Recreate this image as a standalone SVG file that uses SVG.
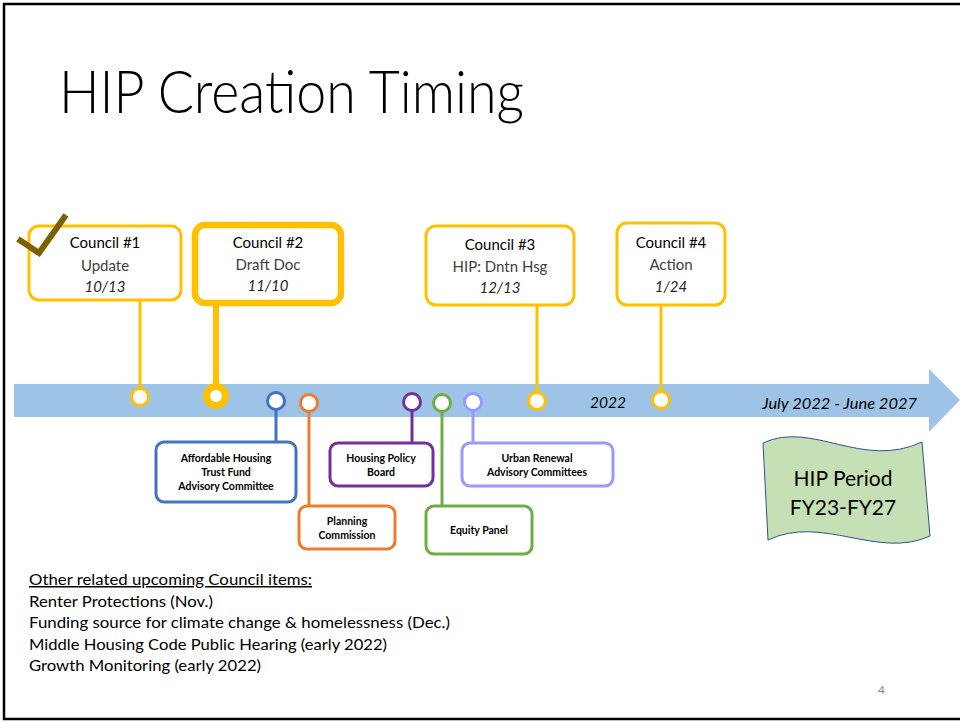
<svg xmlns="http://www.w3.org/2000/svg" width="960" height="721" viewBox="0 0 960 721">
  <style>
    text { font-family: Lato, "Open Sans", "Liberation Sans", sans-serif; }
    .title { font-size: 60px; font-weight: 300; fill: #000; }
    .ch { font-size: 15px; fill: #000; text-anchor: middle; }
    .cs { font-size: 15px; fill: #404040; text-anchor: middle; }
    .cd { font-size: 15px; fill: #262626; font-style: italic; text-anchor: middle; }
    .sm { font-size: 10.5px; font-weight: 700; fill: #000; text-anchor: middle; }
    .axis { font-size: 15.5px; font-style: italic; fill: #000; }
    .body { font-size: 15px; fill: #000; }
    .box { fill: #fff; stroke-width: 3; }
    .y { stroke: #FFC000; }
    .dot { fill: #fff; stroke-width: 3; }
    .line { fill: none; stroke-width: 3; }
  </style>

  <!-- slide frame -->
  <rect x="4" y="4" width="980" height="715" fill="#fff" stroke="#000" stroke-width="2.5"/>

  <text class="title" x="59" y="113" textLength="465" lengthAdjust="spacingAndGlyphs">HIP Creation Timing</text>

  <!-- timeline arrow -->
  <path d="M14,384 L929,384 L929,369 L960,400 L929,432 L929,417 L14,417 Z" fill="#9DC3E6"/>
  <text class="axis" x="590" y="408">2022</text>
  <text class="axis" x="762" y="409" textLength="155" lengthAdjust="spacingAndGlyphs">July 2022 - June 2027</text>

  <!-- connectors -->
  <g id="connectors">
    <line class="line y" x1="140" y1="300" x2="140" y2="390"/>
    <line x1="216" y1="306" x2="216" y2="390" stroke="#FFC000" stroke-width="6"/>
    <line class="line y" x1="537" y1="305" x2="537" y2="393"/>
    <line class="line y" x1="661" y1="305" x2="661" y2="393"/>
    <line class="line" stroke="#4472C4" x1="276" y1="409" x2="276" y2="442"/>
    <line class="line" stroke="#ED7D31" x1="309" y1="411" x2="309" y2="506"/>
    <line class="line" stroke="#7030A0" x1="412" y1="410" x2="412" y2="443"/>
    <line class="line" stroke="#70AD47" x1="442" y1="411" x2="442" y2="506"/>
    <line class="line" stroke="#9999FF" x1="473" y1="410" x2="473" y2="443"/>

    <circle class="dot y" cx="140" cy="397" r="8.5"/>
    <circle cx="216" cy="396" r="9.5" fill="#fff" stroke="#FFC000" stroke-width="7"/>
    <circle class="dot y" cx="537" cy="401" r="8.5"/>
    <circle class="dot y" cx="661" cy="400" r="8.5"/>
    <circle class="dot" stroke="#4472C4" cx="276" cy="401" r="8.5"/>
    <circle class="dot" stroke="#ED7D31" cx="309" cy="403" r="8.5"/>
    <circle class="dot" stroke="#7030A0" cx="412" cy="402" r="8.5"/>
    <circle class="dot" stroke="#70AD47" cx="442" cy="403" r="8.5"/>
    <circle class="dot" stroke="#9999FF" cx="473" cy="402" r="8.5"/>
  </g>

  <!-- council meetings -->
  <g id="council1">
    <rect class="box y" x="29" y="226" width="152" height="74" rx="10"/>
    <text class="ch" x="105" y="248">Council #1</text>
    <text class="cs" x="105" y="271">Update</text>
    <text class="cd" x="105" y="292">10/13</text>
    <path d="M18,239 L39,253 L66,215" fill="none" stroke="#7F6000" stroke-width="6"/>
  </g>

  <g id="council2">
    <rect x="195" y="225" width="146" height="78" rx="10" fill="#fff" stroke="#FFC000" stroke-width="6.5"/>
    <text class="ch" x="268" y="248">Council #2</text>
    <text class="cs" x="268" y="270">Draft Doc</text>
    <text class="cd" x="268" y="291">11/10</text>
  </g>

  <g id="council3">
    <rect class="box y" x="426" y="226" width="148" height="79" rx="10"/>
    <text class="ch" x="500" y="250">Council #3</text>
    <text class="cs" x="500" y="272">HIP: Dntn Hsg</text>
    <text class="cd" x="500" y="293">12/13</text>
  </g>

  <g id="council4">
    <rect class="box y" x="617" y="223" width="108" height="82" rx="10"/>
    <text class="ch" x="671" y="248">Council #4</text>
    <text class="cs" x="671" y="270">Action</text>
    <text class="cd" x="671" y="292">1/24</text>
  </g>

  <!-- advisory bodies -->
  <g id="ahtf">
    <rect class="box" stroke="#4472C4" x="156" y="442" width="140" height="60" rx="8"/>
    <text class="sm" x="226" y="462">Affordable Housing</text>
    <text class="sm" x="226" y="476">Trust Fund</text>
    <text class="sm" x="226" y="490">Advisory Committee</text>
  </g>

  <g id="planning">
    <rect class="box" stroke="#ED7D31" x="299" y="506" width="96" height="43" rx="8"/>
    <text class="sm" x="347" y="525">Planning</text>
    <text class="sm" x="347" y="539">Commission</text>
  </g>

  <g id="hpb">
    <rect class="box" stroke="#7030A0" x="330" y="443" width="103" height="43" rx="8"/>
    <text class="sm" x="381" y="462">Housing Policy</text>
    <text class="sm" x="381" y="476">Board</text>
  </g>

  <g id="equity">
    <rect class="box" stroke="#70AD47" x="426" y="506" width="106" height="48" rx="8"/>
    <text class="sm" x="479" y="534">Equity Panel</text>
  </g>

  <g id="urban">
    <rect class="box" stroke="#9999FF" x="462" y="443" width="151" height="43" rx="8"/>
    <text class="sm" x="537" y="462">Urban Renewal</text>
    <text class="sm" x="537" y="476">Advisory Committees</text>
  </g>

  <!-- plan period banner -->
  <g id="hip-period">
    <path d="M763,443 C812,420 862,470 922,442 L930,536 C878,560 822,514 768,540 Z" fill="#C5E0B4" stroke="#2F528F" stroke-width="1"/>
    <text x="843" y="486" font-size="21" text-anchor="middle" fill="#000">HIP Period</text>
    <text x="843" y="515" font-size="21" text-anchor="middle" fill="#000">FY23-FY27</text>
  </g>

  <!-- related items -->
  <g id="related">
    <text class="body" x="29" y="585" text-decoration="underline" textLength="283" lengthAdjust="spacingAndGlyphs">Other related upcoming Council items:</text>
    <text class="body" x="29" y="607" textLength="184" lengthAdjust="spacingAndGlyphs">Renter Protections (Nov.)</text>
    <text class="body" x="29" y="628" textLength="421" lengthAdjust="spacingAndGlyphs">Funding source for climate change &amp; homelessness (Dec.)</text>
    <text class="body" x="29" y="650" textLength="358" lengthAdjust="spacingAndGlyphs">Middle Housing Code Public Hearing (early 2022)</text>
    <text class="body" x="29" y="671" textLength="232" lengthAdjust="spacingAndGlyphs">Growth Monitoring (early 2022)</text>
  </g>

  <text x="878" y="694" font-size="12" fill="#898989">4</text>
</svg>
